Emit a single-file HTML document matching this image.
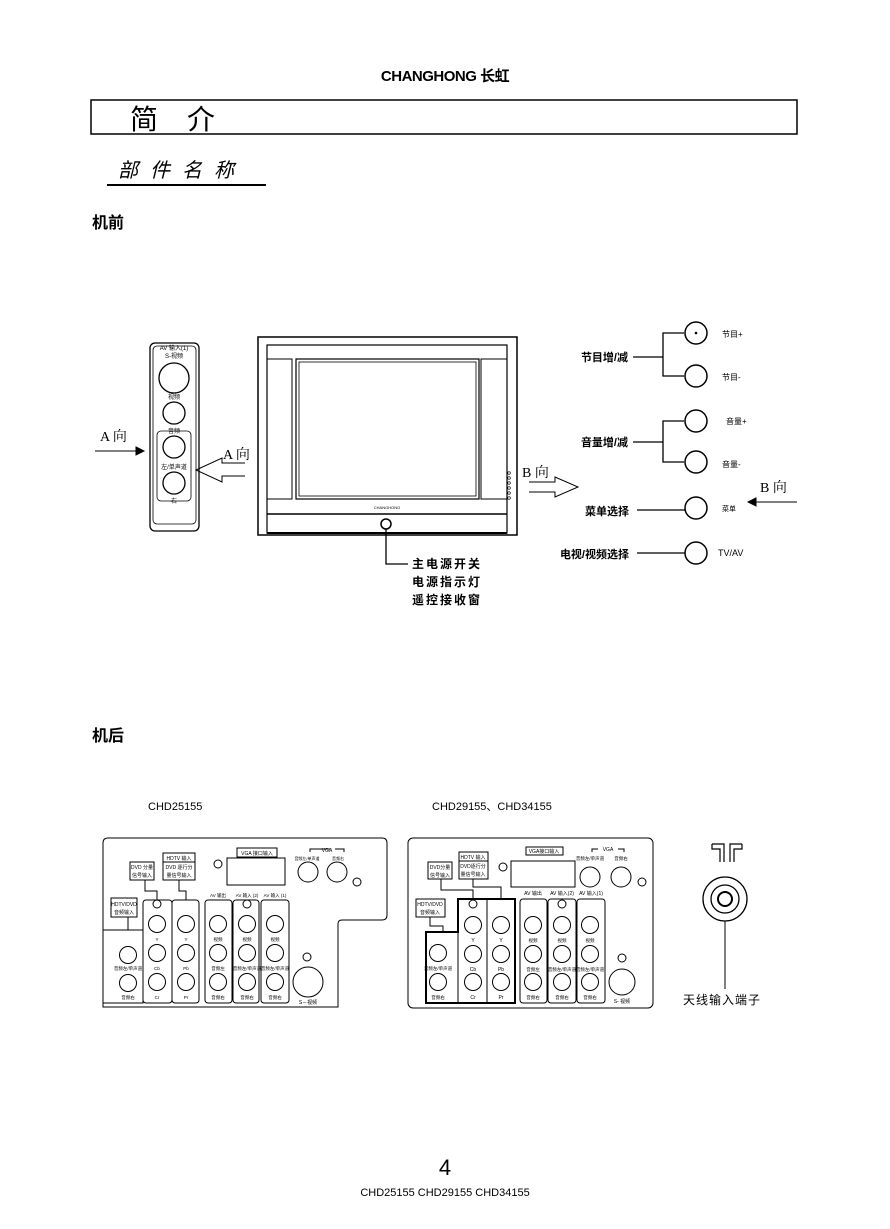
<!DOCTYPE html>
<html><head><meta charset="utf-8"><style>
html,body{margin:0;padding:0;background:#fff}
svg{display:block}
text{font-family:"Liberation Sans","Noto Sans CJK SC",sans-serif;fill:#000}
.s{font-family:"Liberation Serif","Noto Serif CJK SC",serif}
</style></head><body>
<svg width="890" height="1229" viewBox="0 0 890 1229" xmlns="http://www.w3.org/2000/svg" fill="none" stroke="#000">
<!-- header -->
<text x="445" y="81" text-anchor="middle" font-size="15" font-weight="bold" stroke="none" letter-spacing="-0.5">CHANGHONG 长虹</text>
<rect x="91" y="100" width="706" height="34" stroke-width="1.5"/>
<text x="130" y="129" font-size="28" stroke="none">简</text>
<text x="187" y="129" font-size="28" stroke="none">介</text>
<text x="118" y="177" font-size="20" stroke="none" font-style="italic" letter-spacing="12">部件名称</text>
<line x1="107" y1="185" x2="266" y2="185" stroke-width="2"/>
<text x="92" y="228" font-size="16" font-weight="bold" stroke="none">机前</text>

<!-- side panel -->
<rect x="150" y="343" width="49" height="188" rx="5" stroke-width="1.3"/>
<rect x="153" y="346" width="43" height="178" rx="4" stroke-width="0.8"/>
<text x="174" y="350" font-size="6" text-anchor="middle" stroke="none">AV 输入(1)</text>
<text x="174" y="358" font-size="6" text-anchor="middle" stroke="none">S-视频</text>
<circle cx="174" cy="378" r="15" stroke-width="1.3"/>
<text x="174" y="399" font-size="6" text-anchor="middle" stroke="none">视频</text>
<circle cx="174" cy="413" r="11" stroke-width="1.3"/>
<rect x="157" y="431" width="34" height="70" rx="4" stroke-width="0.8"/>
<text x="174" y="433" font-size="6" text-anchor="middle" stroke="none">音频</text>
<circle cx="174" cy="447" r="11" stroke-width="1.3"/>
<text x="174" y="469" font-size="6" text-anchor="middle" stroke="none">左/单声道</text>
<circle cx="174" cy="483" r="11" stroke-width="1.3"/>
<text x="174" y="503" font-size="6" text-anchor="middle" stroke="none">右</text>

<text class="s" x="100" y="441" font-size="14" stroke="none">A 向</text>
<line x1="95" y1="451" x2="140" y2="451"/>
<path d="M136,447 L144,451 L136,455 Z" fill="#000"/>
<text class="s" x="223" y="459" font-size="14" stroke="none">A 向</text>
<path d="M245,463 L222,463 L222,458 L196,470 L222,482 L222,476 L245,476" stroke-width="1"/>

<!-- TV -->
<rect x="258" y="337" width="259" height="198" stroke-width="1.5"/>
<rect x="267" y="345" width="240" height="188" stroke-width="1.2"/>
<rect x="296" y="359" width="183" height="140" stroke-width="1.2"/>
<rect x="299" y="362" width="177" height="134" stroke-width="0.8"/>
<rect x="267" y="359" width="25" height="140" stroke-width="1"/>
<rect x="481" y="359" width="26" height="140" stroke-width="1"/>
<line x1="267" y1="514" x2="507" y2="514" stroke-width="1.5"/>
<line x1="267" y1="533" x2="507" y2="533" stroke-width="2"/>
<text x="387" y="509" font-size="4" text-anchor="middle" stroke="none">CHANGHONG</text>
<circle cx="386" cy="524" r="5" stroke-width="1.5"/>
<g stroke-width="0.7"><circle cx="509" cy="473" r="1.3"/><circle cx="509" cy="478" r="1.3"/><circle cx="509" cy="483" r="1.3"/><circle cx="509" cy="488" r="1.3"/><circle cx="509" cy="493" r="1.3"/><circle cx="509" cy="498" r="1.3"/></g>
<polyline points="386,529 386,564 408,564" stroke-width="1.3"/>
<text x="412" y="568" font-size="12" font-weight="bold" stroke="none" letter-spacing="2">主电源开关</text>
<text x="412" y="586" font-size="12" font-weight="bold" stroke="none" letter-spacing="2">电源指示灯</text>
<text x="412" y="604" font-size="12" font-weight="bold" stroke="none" letter-spacing="2">遥控接收窗</text>

<text class="s" x="522" y="477" font-size="14" stroke="none">B 向</text>
<path d="M529,482 L555,482 L555,477 L578,487 L555,497 L555,492 L529,492" stroke-width="1"/>

<!-- right controls -->
<text x="628" y="361" font-size="11" font-weight="bold" stroke="none" text-anchor="end">节目增/减</text>
<line x1="633" y1="357" x2="663" y2="357" stroke-width="1.3"/>
<polyline points="684,333 663,333 663,376 684,376" stroke-width="1.3"/>
<circle cx="696" cy="333" r="11" stroke-width="1.5"/><circle cx="696" cy="333" r="0.8" fill="#000"/>
<circle cx="696" cy="376" r="11" stroke-width="1.5"/>
<text x="722" y="337" font-size="8" stroke="none">节目+</text>
<text x="722" y="380" font-size="8" stroke="none">节目-</text>

<text x="628" y="446" font-size="11" font-weight="bold" stroke="none" text-anchor="end">音量增/减</text>
<line x1="633" y1="442" x2="663" y2="442" stroke-width="1.3"/>
<polyline points="684,421 663,421 663,462 684,462" stroke-width="1.3"/>
<circle cx="696" cy="421" r="11" stroke-width="1.5"/>
<circle cx="696" cy="462" r="11" stroke-width="1.5"/>
<text x="726" y="424" font-size="8" stroke="none">音量+</text>
<text x="722" y="467" font-size="8" stroke="none">音量-</text>

<text x="629" y="515" font-size="11" font-weight="bold" stroke="none" text-anchor="end">菜单选择</text>
<line x1="637" y1="510" x2="685" y2="510" stroke-width="1.3"/>
<circle cx="696" cy="508" r="11" stroke-width="1.5"/>
<text x="722" y="511" font-size="7" stroke="none">菜单</text>
<text class="s" x="760" y="492" font-size="14" stroke="none">B 向</text>
<line x1="754" y1="502" x2="797" y2="502"/>
<path d="M756,498 L748,502 L756,506 Z" fill="#000"/>

<text x="629" y="558" font-size="11" font-weight="bold" stroke="none" text-anchor="end">电视/视频选择</text>
<line x1="637" y1="553" x2="685" y2="553" stroke-width="1.3"/>
<circle cx="696" cy="553" r="11" stroke-width="1.5"/>
<text x="718" y="556" font-size="9" stroke="none">TV/AV</text>

<!-- back -->
<text x="92" y="741" font-size="16" font-weight="bold" stroke="none">机后</text>
<text x="148" y="810" font-size="11" stroke="none">CHD25155</text>
<text x="432" y="810" font-size="11" stroke="none">CHD29155、CHD34155</text>

<!-- left panel -->
<g stroke-width="1">
<path d="M108,838 L382,838 Q387,838 387,843 L387,915 Q387,920 382,920 L342,920 Q338,920 338,924 L338,1007 L103,1007 L103,843 Q103,838 108,838 Z"/>
<rect x="130" y="862" width="24" height="18"/><text x="142" y="869" font-size="5" text-anchor="middle" stroke="none">DVD 分量</text><text x="142" y="877" font-size="5" text-anchor="middle" stroke="none">信号输入</text>
<rect x="163" y="853" width="32" height="9"/><text x="179" y="860" font-size="5" text-anchor="middle" stroke="none">HDTV 输入</text>
<rect x="163" y="862" width="32" height="18"/><text x="179" y="869" font-size="5" text-anchor="middle" stroke="none">DVD 逐行分</text><text x="179" y="877" font-size="5" text-anchor="middle" stroke="none">量信号输入</text>
<polyline points="145,880 145,891 157,891 157,900"/><polyline points="179,880 179,891 186,891 186,900"/>
<rect x="111" y="898" width="26" height="19"/><text x="124" y="906" font-size="5" text-anchor="middle" stroke="none">HDTV/DVD</text><text x="124" y="914" font-size="5" text-anchor="middle" stroke="none">音频输入</text>
<line x1="128" y1="917" x2="128" y2="930"/>
<path d="M103,930 L143,930 L143,1003 L103,1003"/>
<rect x="143" y="900" width="29" height="103" rx="3"/>
<rect x="172" y="900" width="27" height="103" rx="3"/>
<rect x="205" y="900" width="27" height="103" rx="3"/>
<rect x="233" y="900" width="26" height="103" rx="3"/>
<rect x="261" y="900" width="28" height="103" rx="3"/>
<circle cx="128" cy="955" r="8.5"/><circle cx="128" cy="983" r="8.5"/>
<circle cx="157" cy="904" r="4"/>
<circle cx="157" cy="924" r="8.5"/><circle cx="157" cy="953" r="8.5"/><circle cx="157" cy="982" r="8.5"/>
<circle cx="186" cy="924" r="8.5"/><circle cx="186" cy="953" r="8.5"/><circle cx="186" cy="982" r="8.5"/>
<circle cx="218" cy="924" r="8.5"/><circle cx="218" cy="953" r="8.5"/><circle cx="218" cy="982" r="8.5"/>
<circle cx="247" cy="904" r="4"/>
<circle cx="247" cy="924" r="8.5"/><circle cx="247" cy="953" r="8.5"/><circle cx="247" cy="982" r="8.5"/>
<circle cx="275" cy="924" r="8.5"/><circle cx="275" cy="953" r="8.5"/><circle cx="275" cy="982" r="8.5"/>
<rect x="237" y="848" width="40" height="9"/><text x="257" y="855" font-size="5" text-anchor="middle" stroke="none">VGA 接口输入</text>
<rect x="227" y="858" width="58" height="27"/>
<circle cx="218" cy="864" r="4"/>
<polyline points="310,852 310,849 330,849"/><polyline points="335,849 344,849 344,852"/>
<text x="327" y="852" font-size="5" text-anchor="middle" stroke="none">VGA</text>
<text x="307" y="860" font-size="4" text-anchor="middle" stroke="none">音频左/单声道</text><text x="338" y="860" font-size="4" text-anchor="middle" stroke="none">音频右</text>
<circle cx="308" cy="872" r="10"/><circle cx="337" cy="872" r="10"/><circle cx="357" cy="882" r="4"/>
<circle cx="307" cy="957" r="4"/><circle cx="308" cy="982" r="15"/>
<text x="308" y="1004" font-size="5" text-anchor="middle" stroke="none">S－视频</text>
</g>
<g font-size="4.5" text-anchor="middle" stroke="none" fill="#000">
<text x="218" y="897">AV 输出</text><text x="247" y="897">AV 输入 (2)</text><text x="275" y="897">AV 输入 (1)</text>
<text x="157" y="941">Y</text><text x="186" y="941">Y</text><text x="157" y="970">Cb</text><text x="186" y="970">Pb</text><text x="157" y="999">Cr</text><text x="186" y="999">Pr</text>
<text x="128" y="970">音频左/单声道</text><text x="128" y="999">音频右</text>
<text x="218" y="941">视频</text><text x="247" y="941">视频</text><text x="275" y="941">视频</text>
<text x="218" y="970">音频左</text><text x="247" y="970">音频左/单声道</text><text x="275" y="970">音频左/单声道</text>
<text x="218" y="999">音频右</text><text x="247" y="999">音频右</text><text x="275" y="999">音频右</text>
</g>

<!-- right panel -->
<g stroke-width="1">
<rect x="408" y="838" width="245" height="170" rx="5"/>
<rect x="428" y="862" width="24" height="17"/><text x="440" y="869" font-size="5" text-anchor="middle" stroke="none">DVD分量</text><text x="440" y="877" font-size="5" text-anchor="middle" stroke="none">信号输入</text>
<rect x="459" y="852" width="29" height="9"/><text x="473" y="859" font-size="5" text-anchor="middle" stroke="none">HDTV 输入</text>
<rect x="459" y="861" width="29" height="18"/><text x="473" y="868" font-size="5" text-anchor="middle" stroke="none">DVD逐行分</text><text x="473" y="876" font-size="5" text-anchor="middle" stroke="none">量信号输入</text>
<polyline points="441,879 441,890 473,890 473,899"/><polyline points="473,879 473,887 501,887 501,899"/>
<rect x="416" y="899" width="29" height="18"/><text x="430" y="906" font-size="5" text-anchor="middle" stroke="none">HDTV/DVD</text><text x="430" y="914" font-size="5" text-anchor="middle" stroke="none">音频输入</text>
<polyline points="430,917 430,926 443,926 443,932"/>
<path d="M426,932 L458,932 L458,899 L515,899 L515,1003 L426,1003 Z" stroke-width="2"/>
<line x1="487" y1="899" x2="487" y2="1003"/>
<line x1="458" y1="932" x2="458" y2="1003"/>
<rect x="520" y="899" width="27" height="104" rx="3"/>
<rect x="548" y="899" width="28" height="104" rx="3"/>
<rect x="577" y="899" width="28" height="104" rx="3"/>
<circle cx="438" cy="953" r="8.5"/><circle cx="438" cy="982" r="8.5"/>
<circle cx="473" cy="904" r="4"/>
<circle cx="473" cy="925" r="8.5"/><circle cx="473" cy="954" r="8.5"/><circle cx="473" cy="982" r="8.5"/>
<circle cx="501" cy="925" r="8.5"/><circle cx="501" cy="954" r="8.5"/><circle cx="501" cy="982" r="8.5"/>
<circle cx="533" cy="925" r="8.5"/><circle cx="533" cy="954" r="8.5"/><circle cx="533" cy="982" r="8.5"/>
<circle cx="562" cy="904" r="4"/>
<circle cx="562" cy="925" r="8.5"/><circle cx="562" cy="954" r="8.5"/><circle cx="562" cy="982" r="8.5"/>
<circle cx="590" cy="925" r="8.5"/><circle cx="590" cy="954" r="8.5"/><circle cx="590" cy="982" r="8.5"/>
<rect x="526" y="847" width="37" height="8"/><text x="544" y="853" font-size="5" text-anchor="middle" stroke="none">VGA接口输入</text>
<rect x="511" y="861" width="64" height="26"/>
<circle cx="503" cy="867" r="4"/>
<polyline points="592,852 592,849 598,849"/><polyline points="618,849 624,849 624,852"/>
<text x="608" y="851" font-size="5" text-anchor="middle" stroke="none">VGA</text>
<text x="590" y="860" font-size="4.5" text-anchor="middle" stroke="none">音频左/单声道</text><text x="621" y="860" font-size="4.5" text-anchor="middle" stroke="none">音频右</text>
<circle cx="590" cy="877" r="10"/><circle cx="621" cy="877" r="10"/><circle cx="642" cy="882" r="4"/>
<circle cx="622" cy="958" r="4"/><circle cx="622" cy="982" r="13"/>
<text x="622" y="1003" font-size="5" text-anchor="middle" stroke="none">S- 视频</text>
</g>
<g font-size="5" text-anchor="middle" stroke="none" fill="#000">
<text x="533" y="895">AV 输出</text><text x="562" y="895">AV 输入(2)</text><text x="591" y="895">AV 输入(1)</text>
<text x="473" y="942">Y</text><text x="501" y="942">Y</text><text x="473" y="971">Cb</text><text x="501" y="971">Pb</text><text x="473" y="999">Cr</text><text x="501" y="999">Pr</text>
<text x="438" y="970" font-size="4.5">音频左/单声道</text><text x="438" y="999" font-size="4.5">音频右</text>
<text x="533" y="942" font-size="4.5">视频</text><text x="562" y="942" font-size="4.5">视频</text><text x="590" y="942" font-size="4.5">视频</text>
<text x="533" y="971" font-size="4.5">音频左</text><text x="562" y="971" font-size="4.5">音频左/单声道</text><text x="590" y="971" font-size="4.5">音频左/单声道</text>
<text x="533" y="999" font-size="4.5">音频右</text><text x="562" y="999" font-size="4.5">音频右</text><text x="590" y="999" font-size="4.5">音频右</text>
</g>

<!-- antenna -->
<path d="M712,844 L724,844 L724,862 M712,844 L712,849 L720,849 L720,862 M742,844 L730,844 L730,862 M742,844 L742,849 L734,849 L734,862" stroke-width="1.2"/>
<circle cx="725" cy="899" r="22" stroke-width="1.3"/>
<circle cx="725" cy="899" r="14" stroke-width="1.3"/>
<circle cx="725" cy="899" r="7" stroke-width="2"/>
<line x1="725" y1="921" x2="725" y2="989" stroke-width="1"/>
<text x="683" y="1004" font-size="12" stroke="none" letter-spacing="1">天线输入端子</text>

<!-- footer -->
<text x="445" y="1175" font-size="22" text-anchor="middle" stroke="none">4</text>
<text x="445" y="1196" font-size="11" text-anchor="middle" stroke="none">CHD25155 CHD29155 CHD34155</text>
</svg>
</body></html>
